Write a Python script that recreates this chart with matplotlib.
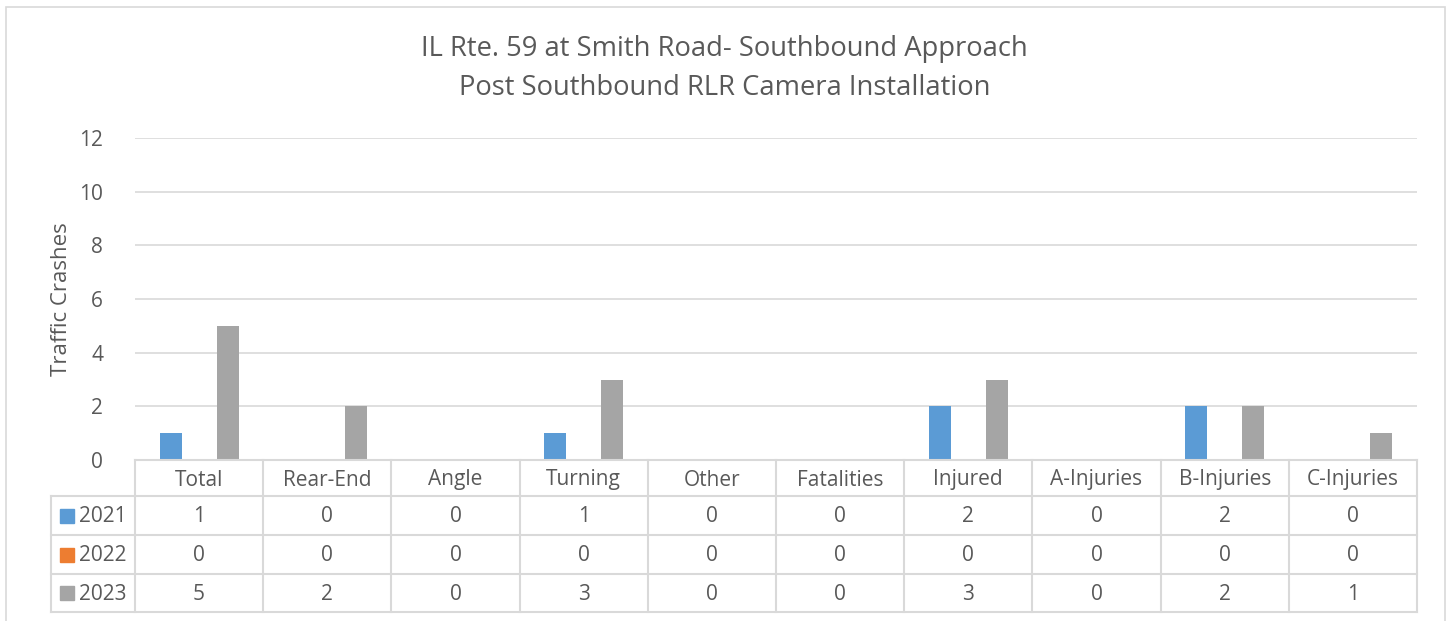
import matplotlib
matplotlib.use('Agg')
import matplotlib.pyplot as plt
from matplotlib.patches import Rectangle

# data
categories = ['Total', 'Rear-End', 'Angle', 'Turning', 'Other', 'Fatalities',
              'Injured', 'A-Injuries', 'B-Injuries', 'C-Injuries']
years = ['2021', '2022', '2023']
crashes_2021 = [1, 0, 0, 1, 0, 0, 2, 0, 2, 0]
crashes_2022 = [0, 0, 0, 0, 0, 0, 0, 0, 0, 0]
crashes_2023 = [5, 2, 0, 3, 0, 0, 3, 0, 2, 1]
y_ticks = [0, 2, 4, 6, 8, 10, 12]

colors = ['#5b9bd5', '#ed7d31', '#a5a5a5']
txt = '#595959'
grid = '#d9d9d9'

plt.rcParams['font.family'] = ['Open Sans', 'DejaVu Sans']

W, H = 1449, 621
fig = plt.figure(figsize=(W / 100, H / 100), dpi=100)

# outer chart border
fig.patches.append(Rectangle((6 / W, -0.05), (1445 - 6) / W, (H - 7) / H + 0.05,
                             transform=fig.transFigure, fill=False,
                             edgecolor=grid, lw=1.2))

# plot area in pixels: x 135..1417, y 138..460
ax = fig.add_axes([135 / W, (H - 460) / H, (1417 - 135) / W, (460 - 138) / H])
series = [crashes_2021, crashes_2022, crashes_2023]
offsets = [-0.222, 0, 0.222]
x = list(range(len(categories)))
for vals, off, c in zip(series, offsets, colors):
    ax.bar([i + off for i in x], vals, width=0.172, color=c, zorder=3)

ax.set_xlim(-0.5, len(categories) - 0.5)
ax.set_ylim(0, 12)
ax.set_yticks(y_ticks)
ax.set_xticks([])
ax.tick_params(axis='y', length=0, pad=23, labelsize=15, labelcolor=txt)
ax.grid(axis='y', color=grid, lw=1.2, zorder=0)
for s in ax.spines.values():
    s.set_visible(False)
ax.set_ylabel('Traffic Crashes', fontsize=16, color=txt, labelpad=5)

fig.text(0.5, 1 - 49 / H, 'IL Rte. 59 at Smith Road- Southbound Approach',
         ha='center', va='center', fontsize=19.7, color=txt)
fig.text(0.5, 1 - 88 / H, 'Post Southbound RLR Camera Installation',
         ha='center', va='center', fontsize=19.7, color=txt)

# data table, pixel y coords (460 top .. 612 bottom)
tx = fig.add_axes([51 / W, (H - 612) / H, (1417 - 51) / W, (612 - 460) / H])
left_x = -0.5 - (135 - 51) / 128.2
tx.set_xlim(left_x, len(categories) - 0.5)
tx.set_ylim(612, 460)
tx.axis('off')
row_edges = [460, 496, 535, 574, 612]

lkw = dict(color=grid, lw=1.5, clip_on=False)
# horizontal lines
tx.plot([-0.5, 9.5], [row_edges[0]] * 2, **lkw)
for yy in row_edges[1:]:
    tx.plot([left_x, 9.5], [yy, yy], **lkw)
# vertical lines
for k in range(len(categories) + 1):
    tx.plot([k - 0.5, k - 0.5], [row_edges[0], row_edges[-1]], **lkw)
tx.plot([left_x, left_x], [row_edges[1], row_edges[-1]], **lkw)

for i, cat in enumerate(categories):
    tx.text(i, (row_edges[0] + row_edges[1]) / 2 + 2, cat, ha='center', va='center',
            fontsize=15, color=txt)
for r, (yr, vals, c) in enumerate(zip(years, series, colors)):
    yc = (row_edges[r + 1] + row_edges[r + 2]) / 2
    tx.add_patch(Rectangle((left_x + 0.07, yc - 7), 0.109, 14, color=c, clip_on=False))
    tx.text(left_x + 0.215, yc + 1, yr, ha='left', va='center', fontsize=15, color=txt)
    for i, v in enumerate(vals):
        tx.text(i, yc + 1, str(v), ha='center', va='center', fontsize=15, color=txt)

fig.savefig('out.png', dpi=100, facecolor='white')
